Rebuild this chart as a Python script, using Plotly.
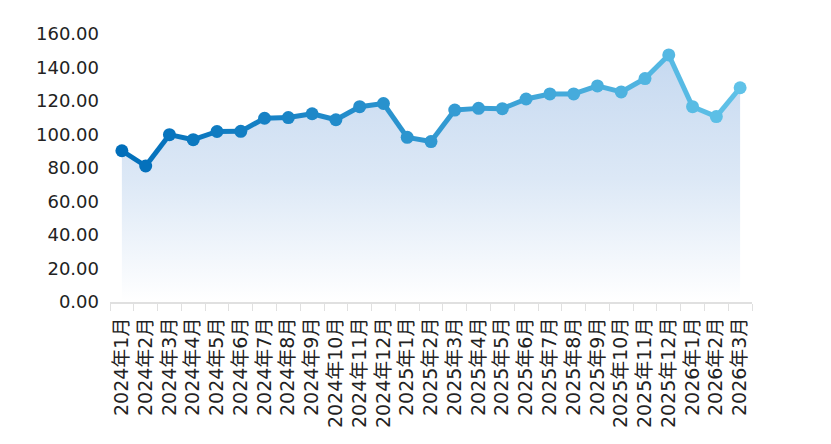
import plotly.graph_objects as go

months = [
    "2024年1月", "2024年2月", "2024年3月", "2024年4月", "2024年5月", "2024年6月",
    "2024年7月", "2024年8月", "2024年9月", "2024年10月", "2024年11月", "2024年12月",
    "2025年1月", "2025年2月", "2025年3月", "2025年4月", "2025年5月", "2025年6月",
    "2025年7月", "2025年8月", "2025年9月", "2025年10月", "2025年11月", "2025年12月",
    "2026年1月", "2026年2月", "2026年3月",
]
values = [
    90.3, 81.2, 99.9, 96.9, 101.8, 101.9,
    109.7, 110.1, 112.4, 108.8, 116.6, 118.5,
    98.3, 95.8, 114.6, 115.6, 115.4, 121.2,
    124.2, 124.2, 129.0, 125.4, 133.4, 147.5,
    116.6, 110.7, 127.9,
]
y_ticks = [0, 20, 40, 60, 80, 100, 120, 140, 160]

start_rgb = (0, 110, 186)
end_rgb = (96, 194, 232)


def mix(t):
    # colour along the line, dark blue -> light cyan
    r, g, b = [round(a + (b_ - a) * t) for a, b_ in zip(start_rgb, end_rgb)]
    return f"rgb({r},{g},{b})"


n = len(months)
fig = go.Figure()

# shaded area under the line
fig.add_trace(go.Scatter(
    x=months, y=values,
    mode="lines",
    line=dict(width=0),
    fill="tozeroy",
    fillgradient=dict(
        type="vertical",
        start=0, stop=max(values),
        colorscale=[[0, "rgba(255,255,255,1)"], [0.5, "rgba(220,232,246,1)"], [1, "rgba(198,217,240,1)"]],
    ),
    hoverinfo="skip",
    showlegend=False,
))

# line drawn piece by piece so the colour can shift
for i in range(n - 1):
    fig.add_trace(go.Scatter(
        x=months[i:i + 2], y=values[i:i + 2],
        mode="lines",
        line=dict(color=mix((i + 0.5) / (n - 1)), width=5),
        hoverinfo="skip",
        showlegend=False,
    ))

fig.add_trace(go.Scatter(
    x=months, y=values,
    mode="markers",
    marker=dict(
        size=13,
        color=[mix(i / (n - 1)) for i in range(n)],
        line=dict(width=0),
    ),
    showlegend=False,
))

fig.update_layout(
    width=831, height=444,
    margin=dict(l=110, r=79, t=34, b=142),
    plot_bgcolor="white",
    paper_bgcolor="white",
    font=dict(family="DejaVu Sans, Noto Sans CJK SC", size=18, color="#222"),
    xaxis=dict(
        type="category",
        categoryorder="array", categoryarray=months,
        tickangle=-90,
        tickson="boundaries",
        ticks="outside", ticklen=7, tickcolor="#e0e0e0",
        showline=True, linecolor="#e0e0e0", linewidth=2,
        showgrid=False,
        range=[-0.5, n - 0.5],
        ticklabelstandoff=6,
        tickfont=dict(size=19),
    ),
    yaxis=dict(
        range=[0, 160],
        tickvals=y_ticks,
        ticktext=[f"{v:.2f}" for v in y_ticks],
        showgrid=False, zeroline=False, showline=False,
        ticklabelstandoff=10,
        tickfont=dict(size=18),
    ),
)

fig.write_html("out.html", config={"displayModeBar": False},
               post_script="document.body.style.margin='0';")
